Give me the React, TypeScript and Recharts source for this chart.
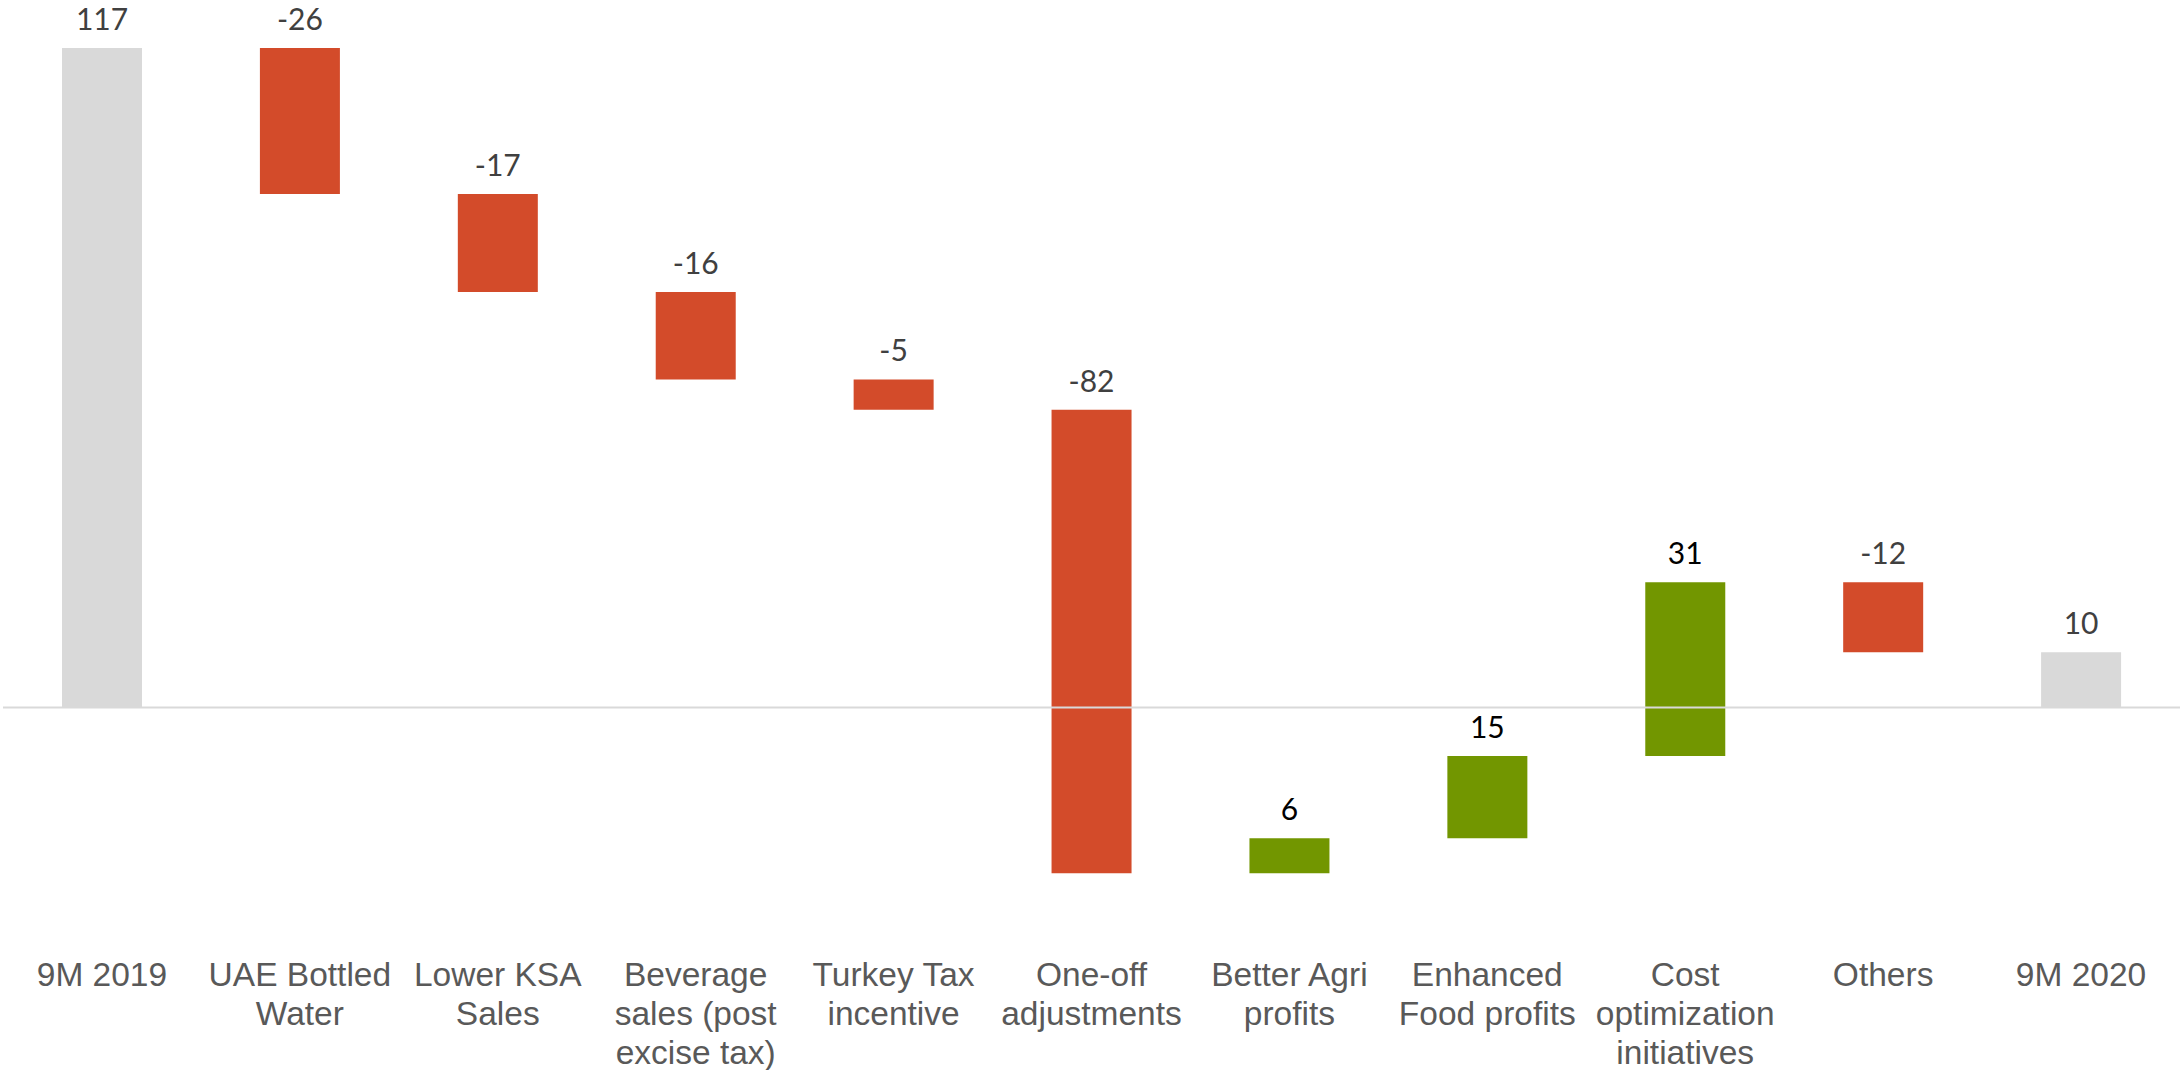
import { BarChart, Bar, XAxis, YAxis, Cell, LabelList, ReferenceLine } from 'recharts'

// categories, one entry per bar ('\n' = line break in the axis label)
const categories = [
  '9M 2019',
  'UAE Bottled\nWater',
  'Lower KSA\nSales',
  'Beverage\nsales (post\nexcise tax)',
  'Turkey Tax\nincentive',
  'One-off\nadjustments',
  'Better Agri\nprofits',
  'Enhanced\nFood profits',
  'Cost\noptimization\ninitiatives',
  'Others',
  '9M 2020',
]

// bar sizes (totals are absolute, the rest are deltas)
const changes = [117, -25.9, -17.4, -15.5, -5.4, -82.2, 6.2, 14.6, 30.8, -12.4, 9.8]
const isTotal = [true, false, false, false, false, false, false, false, false, false, true]
const valueLabels = ['117', '-26', '-17', '-16', '-5', '-82', '6', '15', '31', '-12', '10']

const GRAY = '#d9d9d9'
const RED = '#d34b2a'
const GREEN = '#729600'

let running = 0
const rows = categories.map((name, i) => {
  let range: [number, number]
  if (isTotal[i]) {
    range = [0, changes[i]]
    running = changes[i]
  } else {
    const start = running
    running = running + changes[i]
    range = [Math.min(start, running), Math.max(start, running)]
  }
  return { name, range, label: valueLabels[i] }
})

const barColor = (i: number) => (isTotal[i] ? GRAY : changes[i] < 0 ? RED : GREEN)

const CategoryTick = (props: any) => {
  const { x, y, payload } = props
  const lines = String(payload.value).split('\n')
  return (
    <text
      x={x}
      y={y}
      textAnchor="middle"
      fill="#595959"
      fontFamily="'Liberation Sans', Arial, sans-serif"
      fontSize={33.5}
    >
      {lines.map((ln, k) => (
        <tspan key={k} x={x} dy={k === 0 ? 53 : 39}>
          {ln}
        </tspan>
      ))}
    </text>
  )
}

const renderValue = (props: any) => {
  const { x, y, width, height, index } = props
  const top = Math.min(y, y + height)
  const positive = !isTotal[index] && changes[index] > 0
  return (
    <text
      x={x + width / 2}
      y={top - 18}
      textAnchor="middle"
      fill={positive ? '#000000' : '#404040'}
      fontFamily="Lato, 'Open Sans', sans-serif"
      fontSize={30}
    >
      {valueLabels[index]}
    </text>
  )
}

export default function App() {
  return (
    <div style={{ position: 'absolute', left: 0, top: 0, width: 2180, height: 1070, background: '#fff' }}>
      <BarChart
        width={2180}
        height={1070}
        data={rows}
        margin={{ top: 31, right: 0, left: 3, bottom: 0 }}
      >
        <XAxis
          dataKey="name"
          axisLine={false}
          tickLine={false}
          tickSize={0}
          tickMargin={0}
          interval={0}
          height={137}
          tick={<CategoryTick />}
        />
        <YAxis hide domain={[-40, 120]} allowDataOverflow />
        <Bar dataKey="range" barSize={80} isAnimationActive={false}>
          {rows.map((_, i) => (
            <Cell key={i} fill={barColor(i)} />
          ))}
          <LabelList dataKey="label" content={renderValue} />
        </Bar>
        <ReferenceLine y={0} stroke="#d9d9d9" strokeWidth={2} ifOverflow="visible" />
      </BarChart>
    </div>
  )
}
